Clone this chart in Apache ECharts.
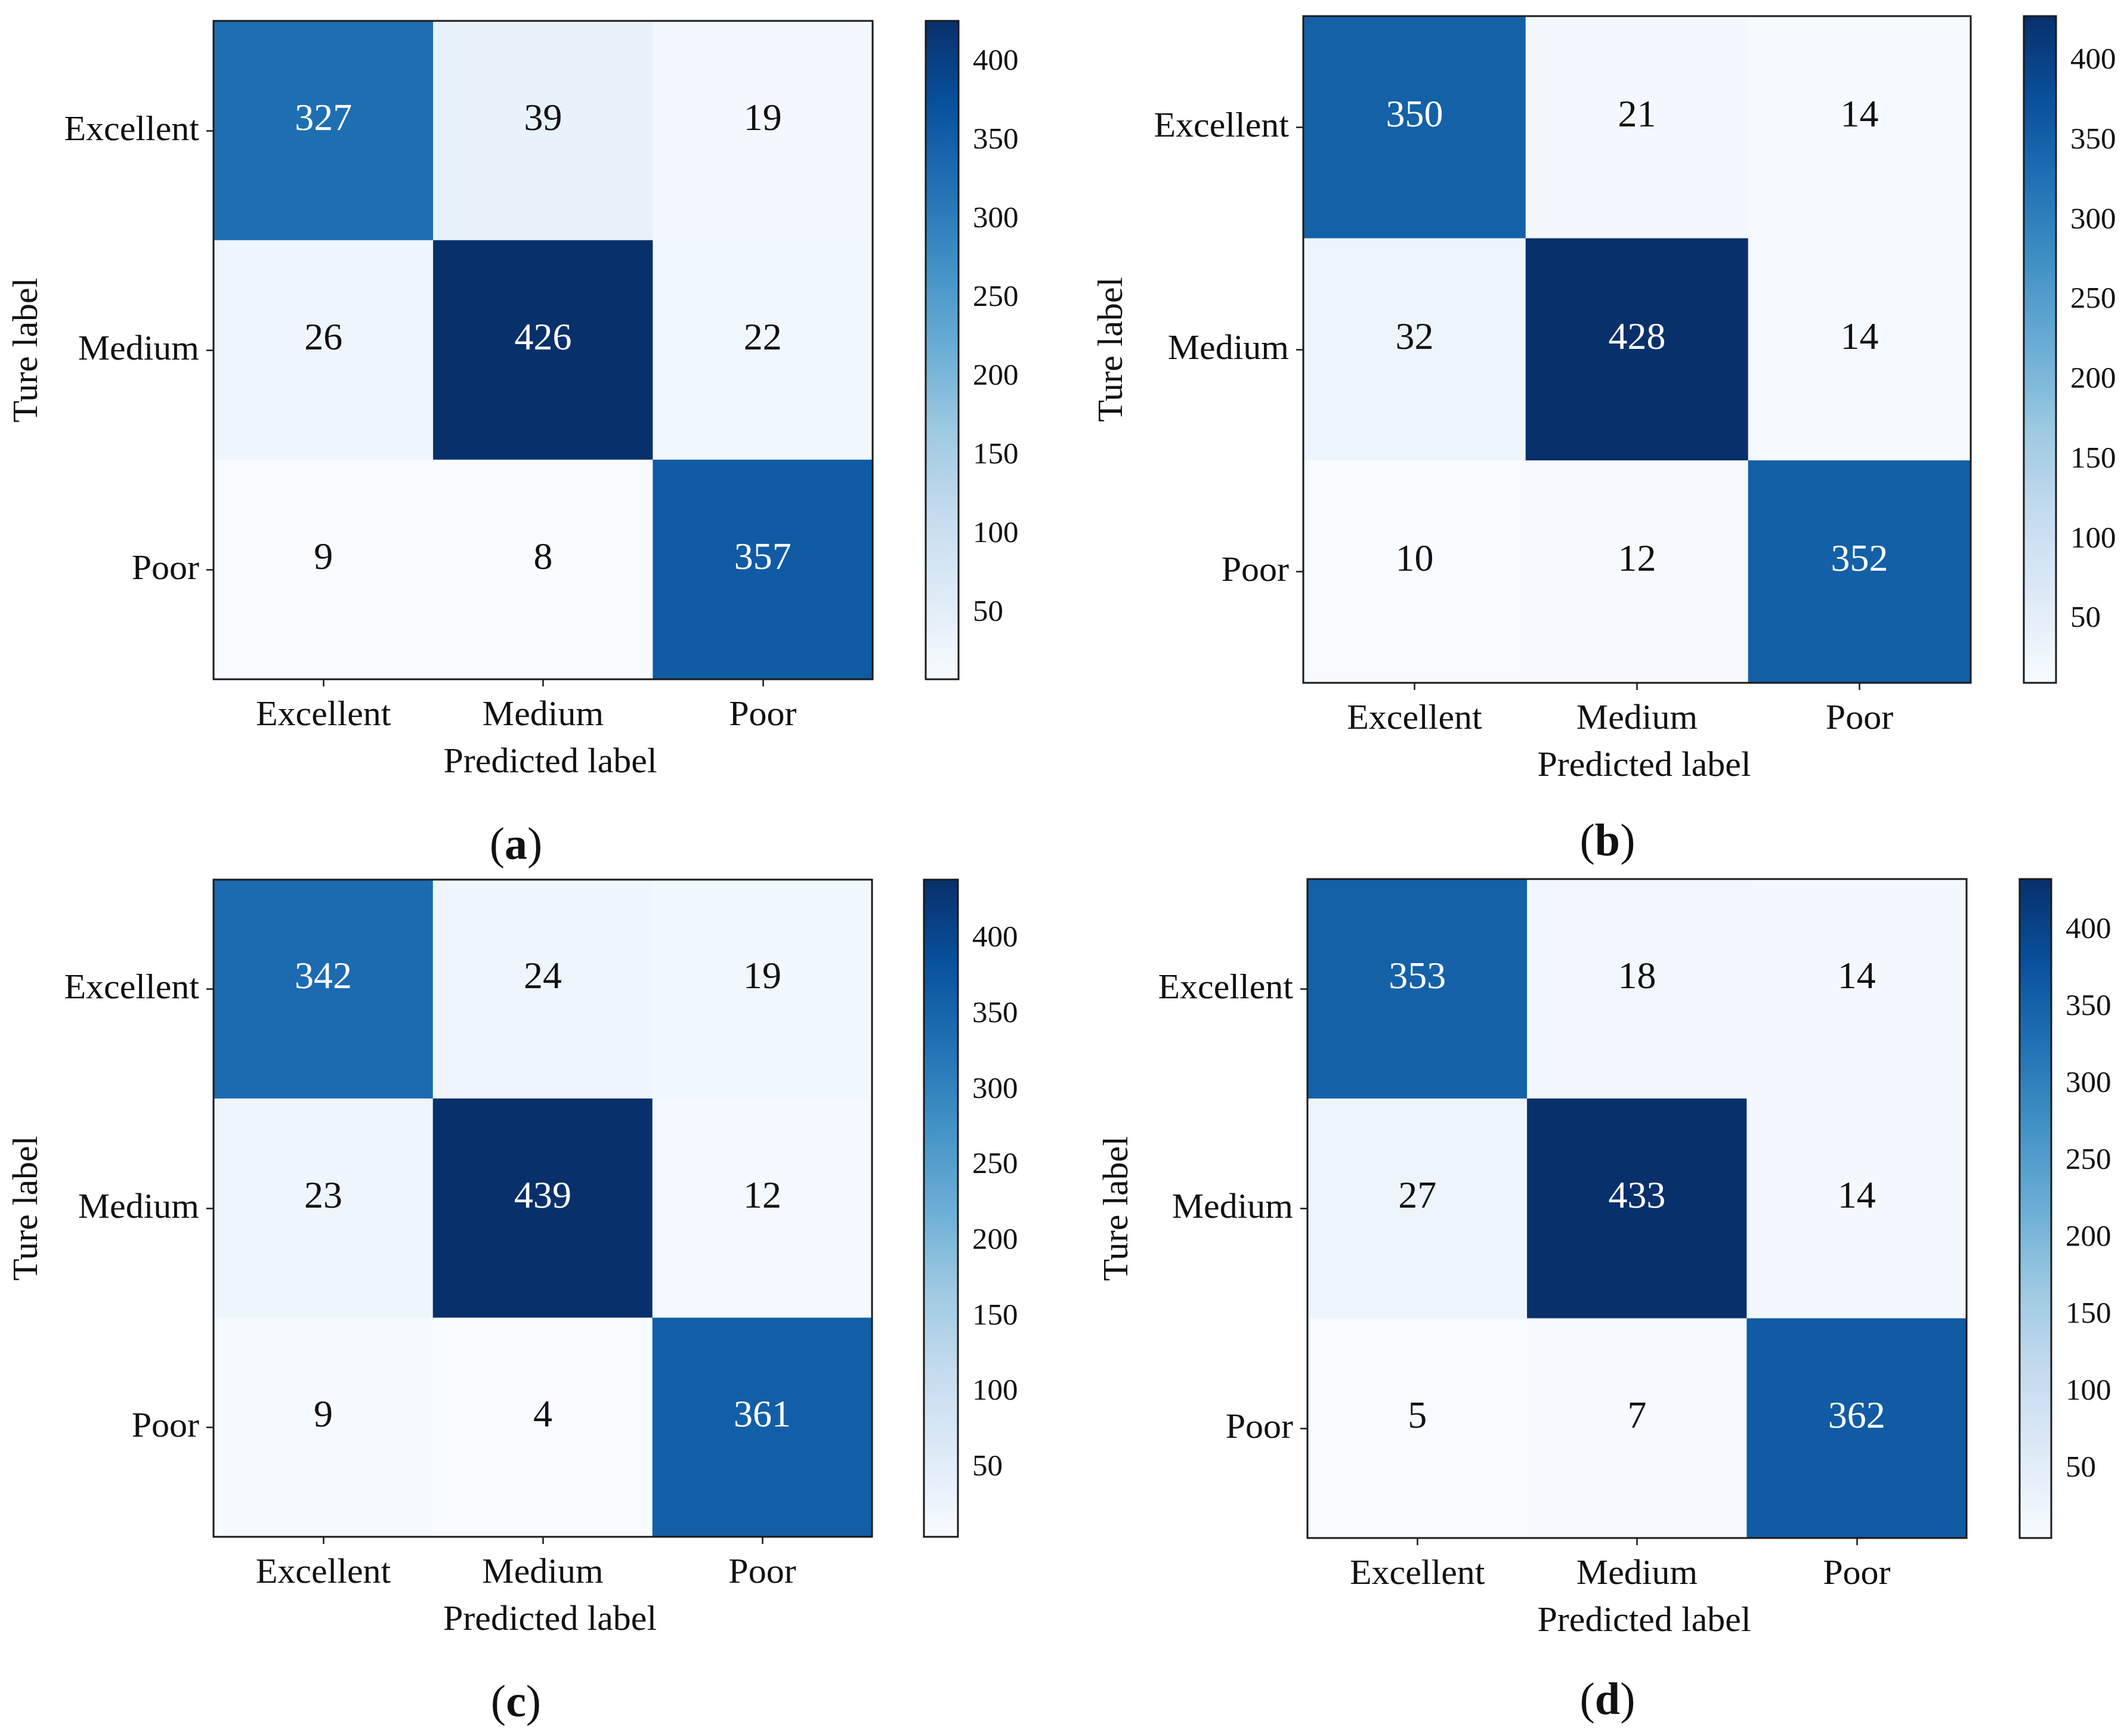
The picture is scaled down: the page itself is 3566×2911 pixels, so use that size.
<!DOCTYPE html>
<html>
<head>
<meta charset="utf-8">
<script src="https://cdn.jsdelivr.net/npm/echarts@6/dist/echarts.min.js"></script>
<style>
html,body{margin:0;padding:0;background:#fff;}
#chart{width:3566px;height:2911px;}
</style>
</head>
<body>
<div id="chart"></div>
<script>
// ---------- data ----------
const categories = ['Excellent', 'Medium', 'Poor'];
const matrixA = [[327, 39, 19], [26, 426, 22], [9, 8, 357]];
const matrixB = [[350, 21, 14], [32, 428, 14], [10, 12, 352]];
const matrixC = [[342, 24, 19], [23, 439, 12], [9, 4, 361]];
const matrixD = [[353, 18, 14], [27, 433, 14], [5, 7, 362]];
const colorbarTicks = [50, 100, 150, 200, 250, 300, 350, 400];
const panelTags = ['a', 'b', 'c', 'd'];
const xAxisTitle = 'Predicted label';
const yAxisTitle = 'Ture label';

// ---------- styling / layout ----------
const FONT = '"Liberation Serif", "Times New Roman", serif';
const BLUES = ['#f7fbff', '#deebf7', '#c6dbef', '#9ecae1', '#6baed6', '#4292c6', '#2171b5', '#08519c', '#08306b'];
const matrices = [matrixA, matrixB, matrixC, matrixD];
const layouts = [
  { grid: { left: 358, top: 35, width: 1105, height: 1104 }, cbar: { left: 1552, top: 35, width: 55, height: 1104 }, cap: [865, 1420], yGap: 282 },
  { grid: { left: 2185, top: 27, width: 1119, height: 1118 }, cbar: { left: 3393, top: 27, width: 54, height: 1118 }, cap: [2695, 1414], yGap: 290 },
  { grid: { left: 358, top: 1475, width: 1104, height: 1102 }, cbar: { left: 1549, top: 1475, width: 57, height: 1102 }, cap: [865, 2858], yGap: 282 },
  { grid: { left: 2192, top: 1474, width: 1105, height: 1105 }, cbar: { left: 3386, top: 1474, width: 53, height: 1105 }, cap: [2695, 2854], yGap: 288 }
];

const option = {
  backgroundColor: '#ffffff',
  animation: false,
  textStyle: { fontFamily: FONT },
  grid: [], xAxis: [], yAxis: [], series: [], visualMap: [], graphic: []
};

const frame = { show: true, borderColor: '#1a1a1a', borderWidth: 3, backgroundColor: 'rgba(0,0,0,0)', containLabel: false, z: 10 };

matrices.forEach((m, p) => {
  const L = layouts[p];
  const flat = m.flat();
  const vmin = Math.min(...flat), vmax = Math.max(...flat);
  const thresh = vmax / 2;
  const gi = p * 2, ci = p * 2 + 1;

  option.grid.push(Object.assign({}, frame, L.grid));
  option.grid.push(Object.assign({}, frame, L.cbar));

  // heatmap axes
  option.xAxis.push({
    type: 'category', gridIndex: gi, data: categories, position: 'bottom',
    axisLine: { show: false },
    axisTick: { show: true, alignWithLabel: true, length: 12, lineStyle: { color: '#1a1a1a', width: 2.5 } },
    axisLabel: { fontFamily: FONT, fontSize: 60, color: '#111', margin: 31 },
    splitLine: { show: false },
    name: xAxisTitle, nameLocation: 'middle', nameGap: 110,
    nameTextStyle: { fontFamily: FONT, fontSize: 60, color: '#111', padding: [0, 0, 0, 24] }
  });
  option.yAxis.push({
    type: 'category', gridIndex: gi, data: categories, inverse: true,
    axisLine: { show: false },
    axisTick: { show: true, alignWithLabel: true, length: 12, lineStyle: { color: '#1a1a1a', width: 2.5 } },
    axisLabel: { fontFamily: FONT, fontSize: 60, color: '#111', margin: 24 },
    splitLine: { show: false },
    name: yAxisTitle, nameLocation: 'middle', nameGap: L.yGap, nameRotate: 90,
    nameTextStyle: { fontFamily: FONT, fontSize: 60, color: '#111' }
  });
  // colorbar axes
  option.xAxis.push({ type: 'value', gridIndex: ci, min: 0, max: 1, show: false });
  option.yAxis.push({
    type: 'value', gridIndex: ci, min: vmin, max: vmax, position: 'right',
    axisLine: { show: false },
    axisTick: { show: true, inside: false, length: 11, customValues: colorbarTicks, lineStyle: { color: '#1a1a1a', width: 2.5 } },
    axisLabel: { show: true, customValues: colorbarTicks, fontFamily: FONT, fontSize: 51, color: '#111', margin: 24 },
    splitLine: { show: false }
  });

  const data = [];
  m.forEach((row, r) => row.forEach((v, c) => {
    data.push({ value: [c, r, v], label: { color: v > thresh ? '#ffffff' : '#111111' } });
  }));

  option.series.push({
    type: 'heatmap', xAxisIndex: gi, yAxisIndex: gi, data: data,
    label: { show: true, fontFamily: FONT, fontSize: 64, offset: [0, -18], formatter: (pp) => String(pp.value[2]) },
    itemStyle: { borderWidth: 0 },
    emphasis: { disabled: true }
  });
  option.visualMap.push({
    type: 'continuous', show: false, min: vmin, max: vmax, dimension: 2,
    seriesIndex: option.series.length - 1,
    inRange: { color: BLUES }
  });
  // colorbar gradient drawn from the data range through the axis scale
  option.series.push({
    type: 'custom', xAxisIndex: ci, yAxisIndex: ci, data: [[0, vmin, vmax]], silent: true, clip: false,
    renderItem: function (params, api) {
      const cs = params.coordSys;
      const yLow = api.coord([0, api.value(1)])[1];
      const yHigh = api.coord([0, api.value(2)])[1];
      const stops = BLUES.map((c, i) => ({ offset: i / (BLUES.length - 1), color: c }));
      return {
        type: 'rect',
        shape: { x: cs.x, y: yHigh, width: cs.width, height: yLow - yHigh },
        style: { fill: new echarts.graphic.LinearGradient(0, 1, 0, 0, stops) },
        z2: -1
      };
    }
  });

  option.graphic.push({
    type: 'text', x: L.cap[0], y: L.cap[1],
    style: {
      text: '{n|(}{b|' + panelTags[p] + '}{n|)}',
      align: 'center', verticalAlign: 'middle',
      rich: {
        n: { fontFamily: FONT, fontSize: 76, fill: '#111', color: '#111' },
        b: { fontFamily: FONT, fontSize: 76, fontWeight: 'bold', fill: '#111', color: '#111' }
      }
    }
  });
});

const chart = echarts.init(document.getElementById('chart'), null, { renderer: 'canvas' });
chart.setOption(option);
</script>
</body>
</html>
